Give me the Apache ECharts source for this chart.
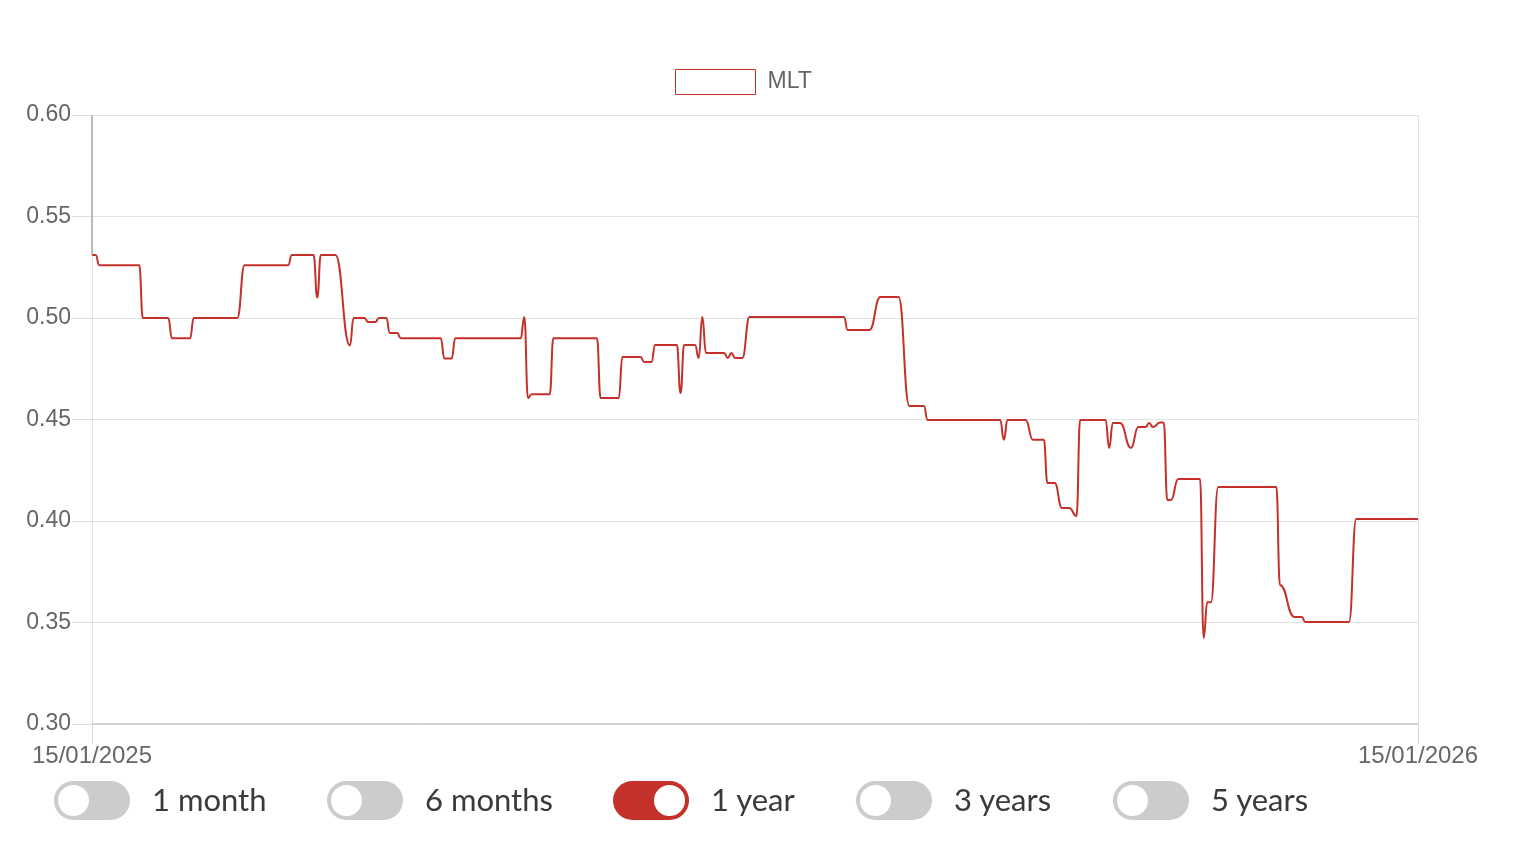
<!DOCTYPE html>
<html>
<head>
<meta charset="utf-8">
<script src="https://cdn.jsdelivr.net/npm/echarts@6/dist/echarts.min.js"></script>
<style>
  html, body { margin: 0; padding: 0; background: #fff; }
  #chart { width: 1516px; height: 848px; position: absolute; left: 0; top: 0; }
  .toggles { position: absolute; top: 780px; left: 0; width: 1516px; height: 40px; font-family: Lato, "Open Sans", sans-serif; }
  .tg { position: absolute; top: 0; height: 40px; display: flex; align-items: center; }
  .pill { width: 76px; height: 39px; border-radius: 20px; background: #cccccc; position: relative; box-sizing: border-box; }
  .knob { position: absolute; top: 4px; left: 4px; width: 31px; height: 31px; border-radius: 50%; background: #fff; }
  .on .pill { background: #c4312b; }
  .on .knob { left: 41px; }
  .lbl { margin-left: 22px; font-size: 31px; color: #3a3a3a; line-height: 40px; margin-top: -2px; }
</style>
</head>
<body>
<div id="chart"></div>
<div class="toggles" id="toggles"></div>
<script>
const seriesName = 'MLT';
const dates = [
  '2025-01-15','2025-01-16','2025-01-17','2025-01-28','2025-01-29','2025-02-05','2025-02-06','2025-02-11','2025-02-12','2025-02-24',
  '2025-02-26','2025-03-10','2025-03-11','2025-03-17','2025-03-18','2025-03-19','2025-03-23','2025-03-27','2025-03-28',
  '2025-03-31','2025-04-01','2025-04-03','2025-04-04','2025-04-06','2025-04-07','2025-04-09',
  '2025-04-10','2025-04-21','2025-04-22','2025-04-24','2025-04-25','2025-05-13','2025-05-14','2025-05-15','2025-05-16','2025-05-21',
  '2025-05-22','2025-06-03','2025-06-04','2025-06-09','2025-06-10','2025-06-15','2025-06-16','2025-06-18','2025-06-19','2025-06-25',
  '2025-06-26','2025-06-27','2025-06-30','2025-07-01','2025-07-02','2025-07-03','2025-07-08','2025-07-09','2025-07-10','2025-07-11',
  '2025-07-13','2025-07-15','2025-08-10','2025-08-11','2025-08-17','2025-08-20','2025-08-25',
  '2025-08-28','2025-09-01','2025-09-02','2025-09-22','2025-09-23','2025-09-24','2025-09-29','2025-10-01','2025-10-04',
  '2025-10-05','2025-10-07','2025-10-09','2025-10-11','2025-10-13','2025-10-14','2025-10-21','2025-10-22','2025-10-23',
  '2025-10-25','2025-10-28','2025-10-30','2025-11-01','2025-11-02','2025-11-03','2025-11-05','2025-11-06','2025-11-07','2025-11-08',
  '2025-11-10','2025-11-16','2025-11-17','2025-11-18','2025-11-19','2025-11-21','2025-12-07','2025-12-08',
  '2025-12-12','2025-12-14','2025-12-15','2025-12-27','2025-12-29','2026-01-15'
];
const values = [
  0.531,0.531,0.526,0.526,0.500,0.500,0.490,0.490,0.500,0.500,
  0.526,0.526,0.531,0.531,0.510,0.531,0.531,0.4865,0.500,
  0.500,0.498,0.498,0.500,0.500,0.4926,0.4926,
  0.490,0.490,0.480,0.480,0.490,0.490,0.5005,0.4606,0.4625,0.4625,
  0.490,0.490,0.4606,0.4606,0.4808,0.4808,0.4783,0.4783,0.4867,0.4867,
  0.463,0.4867,0.4867,0.4803,0.5005,0.4828,0.4828,0.4803,0.4828,0.4803,
  0.4803,0.5005,0.5005,0.4941,0.4941,0.5103,0.5103,
  0.4567,0.4567,0.4498,0.4498,0.440,0.4498,0.4498,0.440,0.440,
  0.4187,0.4187,0.4064,0.4064,0.4025,0.4498,0.4498,0.436,0.4483,
  0.4483,0.436,0.4463,0.4463,0.4483,0.4463,0.4485,0.4485,0.4103,0.4103,
  0.4207,0.4207,0.3424,0.360,0.360,0.4167,0.4167,0.3685,
  0.3527,0.3527,0.3502,0.3502,0.401,0.401
];
const yMin = 0.30, yMax = 0.60, yStep = 0.05;
const rangeOptions = ['1 month', '6 months', '1 year', '3 years', '5 years'];
const activeRange = '1 year';

// toggles (HTML controls under the chart)
const togglePos = [54, 327, 613, 856, 1113];
const tg = document.getElementById('toggles');
rangeOptions.forEach((r, i) => {
  const d = document.createElement('div');
  d.className = 'tg' + (r === activeRange ? ' on' : '');
  d.style.left = togglePos[i] + 'px';
  d.innerHTML = '<div class="pill"><div class="knob"></div></div><span class="lbl"></span>';
  d.querySelector('.lbl').textContent = r;
  tg.appendChild(d);
});

const pts = dates.map((d, i) => [Date.parse(d), values[i]]);
const xMin = pts[0][0], xMax = pts[pts.length - 1][0];
function fmtDate(v) {
  const d = new Date(v);
  const p = n => String(n).padStart(2, '0');
  return p(d.getUTCDate()) + '/' + p(d.getUTCMonth() + 1) + '/' + d.getUTCFullYear();
}
const RED = '#c4312b';
const chart = echarts.init(document.getElementById('chart'), null, { renderer: 'canvas' });
chart.setOption({
  animation: false,
  textStyle: { fontFamily: '"Liberation Sans", Arial, Helvetica, sans-serif' },
  legend: {
    left: 675, top: 69, padding: 0,
    icon: 'rect', itemWidth: 80, itemHeight: 25,
    itemStyle: { color: '#ffffff', borderColor: RED, borderWidth: 1 },
    textStyle: { fontSize: 23, color: '#666666', padding: [0, 0, 0, 7] },
    data: [seriesName]
  },
  grid: { left: 92, right: 98, top: 115, bottom: 124, containLabel: false },
  xAxis: {
    type: 'value', min: xMin, max: xMax, interval: xMax - xMin,
    axisLine: { show: true, lineStyle: { color: '#c8c8c8', width: 1.5 } },
    axisTick: { show: true, length: 20, lineStyle: { color: '#d6d6d6' } },
    axisLabel: { formatter: fmtDate, fontSize: 24, color: '#666666', margin: 20 },
    splitLine: { show: true, lineStyle: { color: '#e3e3e3' } }
  },
  yAxis: {
    type: 'value', min: yMin, max: yMax, interval: yStep,
    axisLine: { show: true, lineStyle: { color: '#e3e3e3' } },
    axisTick: { show: true, length: 20, lineStyle: { color: '#dcdcdc' } },
    axisLabel: { formatter: v => v.toFixed(2), fontSize: 23, color: '#666666', margin: 21 },
    splitLine: { show: true, lineStyle: { color: '#e3e3e3' } }
  },
  series: [{
    name: seriesName,
    type: 'line',
    data: pts,
    showSymbol: false,
    smooth: 0.5,
    smoothMonotone: 'x',
    lineStyle: { color: RED, width: 2 },
    itemStyle: { color: RED },
    markLine: {
      silent: true, symbol: 'none', label: { show: false },
      lineStyle: { color: '#a8a8a8', width: 1.5, type: 'solid' },
      data: [[{ coord: [xMin, yMax] }, { coord: [xMin, values[0]] }]]
    }
  }]
});
</script>
</body>
</html>
